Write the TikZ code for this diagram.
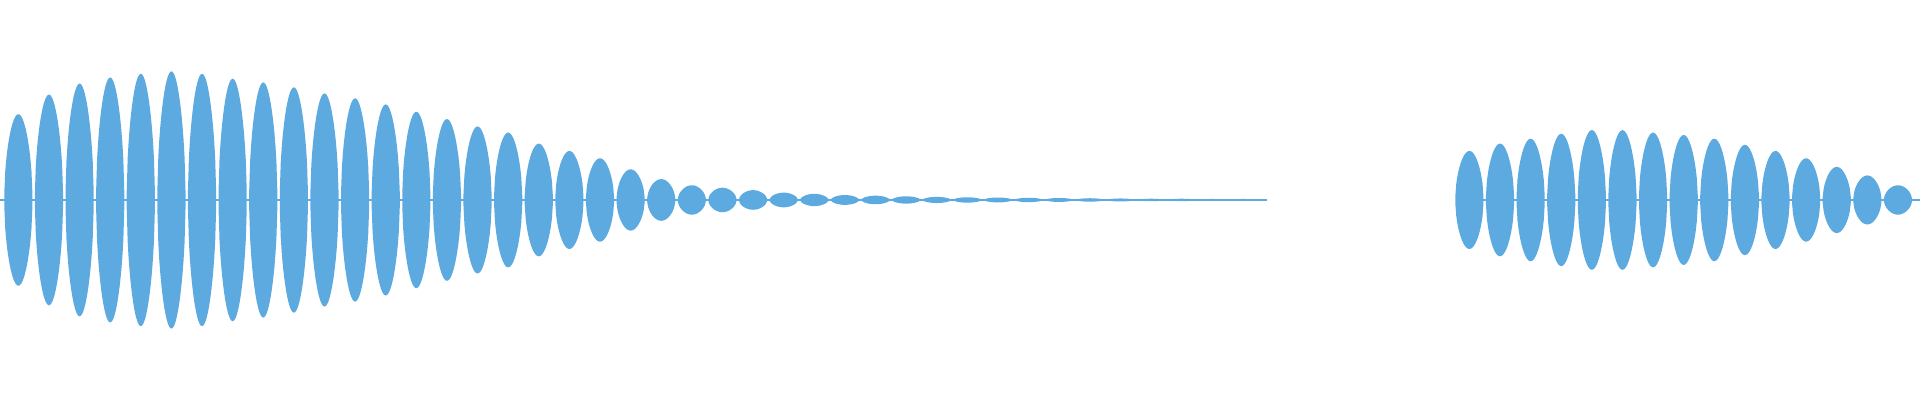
\documentclass[tikz,border=0pt]{standalone}
\usepackage{tikz}
\definecolor{wavec}{RGB}{93,170,225}
\tikzset{lobe/.style={fill=wavec,draw=none}}
\newcommand{\wlobe}[2]{\fill[lobe] plot[domain=-11.5:11.5,samples=31] ({#1+\x},{#2*sqrt(max(cos(\x*7.8),0))}) -- plot[domain=11.5:-11.5,samples=31] ({#1+\x},{-#2*sqrt(max(cos(\x*7.8),0))}) -- cycle;}
\begin{document}
\begin{tikzpicture}[x=0.5pt,y=0.5pt]
    \useasboundingbox (0,-163.4) rectangle (1568,163.3);
    % base line
    \draw[wavec,line width=0.6pt] (0,0) -- (1035,0);
    \draw[wavec,line width=0.6pt] (1190,0) -- (1568,0);
    % first burst
    \foreach \c/\a in {15/70,40/86,65/95,90/100,115/103,140/105,165/103,190/99,
        215/96,240/92,265/87,290/83,315/78,340/72,365/66,390/60,415/55,440/46,
        465/40,490/34,515/25,540/17,565/12,590/10,615/8,640/6,665/5,690/4,715/3.5,
        740/3,765/2.5,790/2.2,815/2,840/1.8,865/1.6,890/1.4,915/1.2,940/1,965/1,990/0.8,1015/0.8}
        {\wlobe{\c}{\a}}
    % second burst
    \foreach \c/\a in {1200/40,1225/46,1250/50,1275/54,1300/57,1325/57,1350/55,1375/53,
        1400/50,1425/45,1450/40,1475/34,1500/27,1525/20,1550/12}
        {\wlobe{\c}{\a}}
\end{tikzpicture}
\end{document}
